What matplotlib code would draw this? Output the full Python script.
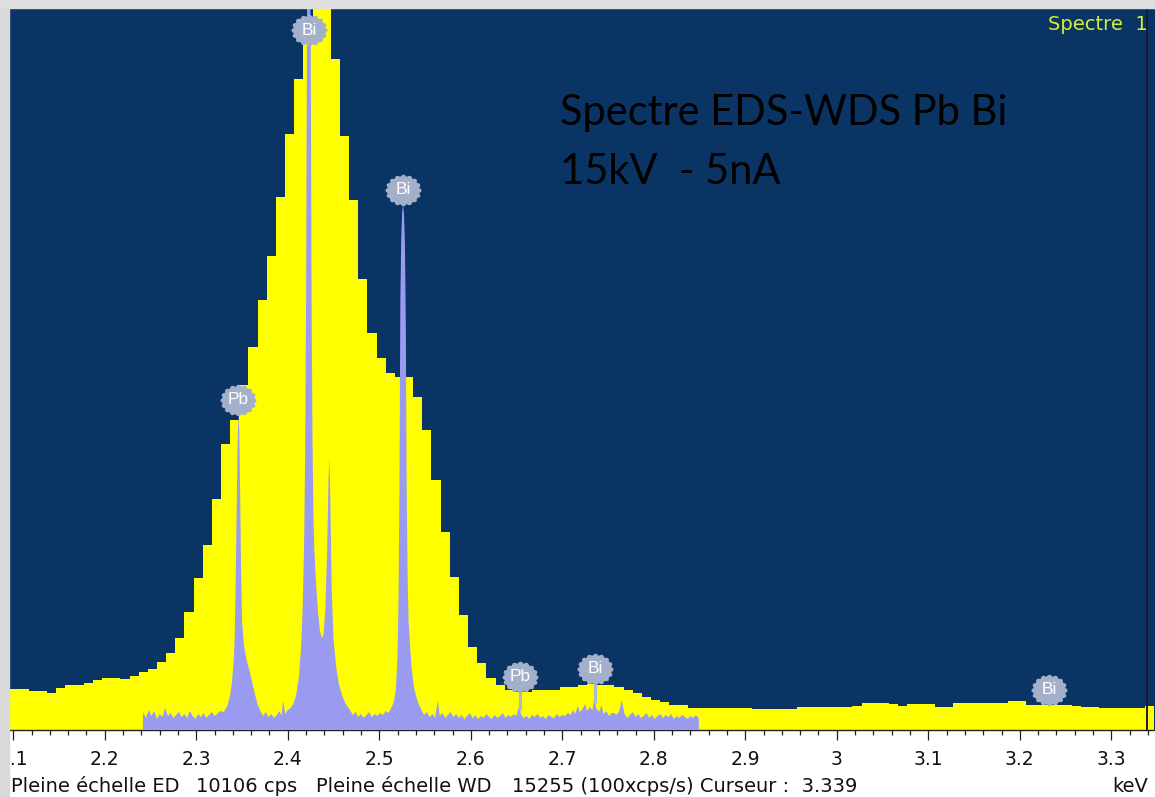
import numpy as np
import matplotlib
matplotlib.use("Agg")
import matplotlib.pyplot as plt
from matplotlib.path import Path
from matplotlib.patches import Rectangle
from matplotlib.ticker import MultipleLocator, FixedLocator, FixedFormatter

# ---------------- data ----------------
eds_full_scale = 10106          # cps (Pleine echelle ED)
wds_full_scale = 15255          # 100xcps/s (Pleine echelle WD)
cursor_kev = 3.339

# EDS spectrum: 10 eV channels, first channel lower edge
eds_first_edge_kev = 2.087
eds_channel_kev = 0.01
eds_cps = [
    574, 574, 574, 546, 546, 518, 588, 630, 630, 658,      # 2.09 - 2.18
    700, 728, 728, 714, 756, 812, 854, 952, 1078, 1288,    # 2.19 - 2.28
    1652, 2128, 2590, 3234, 4004, 4340, 4830, 5362, 6020, 6636,  # 2.29 - 2.38
    7462, 8344, 9114, 9618, 10700, 10400, 9394, 8316, 7420, 6314,  # 2.39 - 2.48
    5558, 5208, 4998, 4942, 4942, 4662, 4200, 3500, 2772, 2142,  # 2.49 - 2.58
    1610, 1162, 938, 728, 630, 560, 532, 532, 560, 560,    # 2.59 - 2.68
    560, 602, 602, 630, 644, 630, 630, 602, 560, 518,      # 2.69 - 2.78
    462, 420, 392, 350, 350, 308, 308, 308, 308, 308,      # 2.79 - 2.88
    308, 308, 294, 294, 294, 294, 294, 322, 322, 322,      # 2.89 - 2.98
    322, 322, 322, 336, 378, 378, 378, 364, 336, 364,      # 2.99 - 3.08
    364, 364, 322, 322, 378, 378, 378, 378, 378, 378,      # 3.09 - 3.18
    406, 406, 350, 350, 350, 350, 350, 336, 322, 322,      # 3.19 - 3.28
    308, 308, 308, 308, 308, 336,                          # 3.29 - 3.34
]

# WDS spectrum (energy in keV, intensity in 100xcps/s)
wds_kev = [
    2.2415, 2.2418, 2.245, 2.248, 2.251, 2.254, 2.257, 2.260, 2.263, 2.266,
    2.269, 2.272, 2.275, 2.278, 2.281, 2.284, 2.287, 2.290, 2.293, 2.296,
    2.299, 2.302, 2.305, 2.308, 2.311, 2.314, 2.317, 2.320, 2.323, 2.326,
    2.330, 2.334, 2.337, 2.339, 2.341, 2.342, 2.343, 2.344, 2.345, 2.346,
    2.347, 2.348, 2.349, 2.350, 2.352, 2.355, 2.358, 2.361, 2.364, 2.367,
    2.370, 2.373, 2.376, 2.379, 2.382, 2.385, 2.388, 2.391, 2.393, 2.395,
    2.397, 2.400, 2.403, 2.406, 2.409, 2.412, 2.414, 2.415, 2.416, 2.417,
    2.418, 2.419, 2.420, 2.421, 2.422, 2.423, 2.424, 2.425, 2.426, 2.427,
    2.428, 2.429, 2.431, 2.433, 2.435, 2.437, 2.439, 2.441, 2.443, 2.4445,
    2.4455, 2.4465, 2.448, 2.450, 2.453, 2.456, 2.460, 2.464, 2.468, 2.471,
    2.474, 2.477, 2.480, 2.483, 2.486, 2.489, 2.492, 2.495, 2.498, 2.501,
    2.504, 2.507, 2.510, 2.513, 2.516, 2.518, 2.520, 2.521, 2.522, 2.523,
    2.524, 2.525, 2.526, 2.527, 2.528, 2.529, 2.530, 2.531, 2.532, 2.535,
    2.538, 2.542, 2.546, 2.549, 2.552, 2.555, 2.558, 2.561, 2.564, 2.566,
    2.569, 2.572, 2.575, 2.578, 2.581, 2.584, 2.587, 2.590, 2.593, 2.596,
    2.599, 2.602, 2.605, 2.608, 2.611, 2.614, 2.617, 2.620, 2.623, 2.626,
    2.629, 2.632, 2.635, 2.638, 2.641, 2.644, 2.647, 2.650, 2.653, 2.655,
    2.658, 2.661, 2.664, 2.667, 2.670, 2.673, 2.676, 2.679, 2.682, 2.685,
    2.688, 2.691, 2.694, 2.697, 2.700, 2.703, 2.706, 2.709, 2.712, 2.714,
    2.717, 2.719, 2.722, 2.725, 2.727, 2.730, 2.733, 2.735, 2.737, 2.740,
    2.743, 2.745, 2.748, 2.751, 2.754, 2.757, 2.759, 2.762, 2.765, 2.768,
    2.771, 2.774, 2.777, 2.780, 2.783, 2.786, 2.789, 2.792, 2.795, 2.798,
    2.801, 2.804, 2.807, 2.810, 2.813, 2.816, 2.819, 2.822, 2.825, 2.828,
    2.831, 2.834, 2.837, 2.840, 2.843, 2.846, 2.849, 2.8495,
]
wds_cps = [
    0, 380, 254, 423, 296, 401, 232, 338, 275, 465,
    296, 359, 254, 317, 380, 275, 338, 254, 401, 296,
    232, 338, 275, 359, 254, 317, 380, 296, 338, 401,
    380, 507, 740, 1014, 1479, 2007, 3100, 4500, 5900, 6656,
    6300, 4900, 3300, 2324, 1796, 1479, 1268, 1014, 761, 549,
    401, 296, 380, 275, 338, 254, 317, 401, 296, 634,
    338, 423, 465, 549, 718, 1099, 1585, 1965, 2430, 3170,
    4163, 5916, 9086, 15214, 16904, 17327, 16481, 14791, 9086, 6128,
    4543, 3803, 3064, 2493, 2113, 1944, 2007, 2536, 3803, 5283,
    5768, 4860, 2958, 1902, 1310, 951, 697, 528, 423, 317,
    380, 275, 338, 254, 317, 380, 275, 338, 296, 359,
    317, 401, 359, 465, 592, 845, 1585, 2800, 5000, 9086,
    10400, 10950, 11093, 10900, 10300, 8500, 4900, 3200, 2300, 1373,
    887, 592, 423, 317, 380, 275, 338, 254, 634, 296,
    359, 254, 317, 380, 275, 338, 254, 317, 232, 296,
    359, 254, 317, 232, 296, 254, 338, 275, 232, 317,
    254, 296, 359, 254, 317, 275, 338, 296, 528, 317,
    254, 296, 232, 317, 275, 338, 254, 296, 232, 317,
    275, 254, 338, 275, 317, 296, 359, 317, 423, 338,
    507, 380, 444, 549, 401, 486, 423, 697, 465, 380,
    528, 338, 401, 296, 359, 359, 317, 380, 634, 338,
    254, 317, 380, 275, 338, 254, 296, 359, 254, 317,
    232, 296, 338, 254, 317, 275, 338, 232, 296, 254,
    317, 275, 232, 296, 254, 317, 254, 0,
]

# element markers
marker_kev = [2.346, 2.423, 2.526, 2.654, 2.736, 3.232]
marker_label = ["Pb", "Bi", "Bi", "Pb", "Bi", "Bi"]

tick_kev = [2.1, 2.2, 2.3, 2.4, 2.5, 2.6, 2.7, 2.8, 2.9, 3.0, 3.1, 3.2, 3.3]
tick_text = ["2.1", "2.2", "2.3", "2.4", "2.5", "2.6", "2.7", "2.8", "2.9",
             "3", "3.1", "3.2", "3.3"]

# ---------------- figure ----------------
W, H = 1155, 797
fig = plt.figure(figsize=(W / 100, H / 100), dpi=100)
fig.patch.set_facecolor("white")

left_px, right_px, top_px, bottom_px = 9, 1155, 8, 730
ax = fig.add_axes([left_px / W, 1 - bottom_px / H,
                   (right_px - left_px) / W, (bottom_px - top_px) / H])
ax.set_facecolor("#0a3464")
plot_h_px = bottom_px - top_px

# x calibration: 2.1 keV at 13.3 px, 915 px per keV
x_ref_px, px_per_kev = 13.3, 915.0
ax.set_xlim(2.1 + (left_px - x_ref_px) / px_per_kev,
            2.1 + (right_px - x_ref_px) / px_per_kev)
ax.set_ylim(0, 1)

eds = np.array(eds_cps, dtype=float) / eds_full_scale
edges = eds_first_edge_kev + eds_channel_kev * np.arange(len(eds) + 1)
ax.stairs(eds, edges, fill=True, color="#ffff00", linewidth=0, zorder=2)

wk = np.array(wds_kev)
wv = np.array(wds_cps, dtype=float) / wds_full_scale
ax.fill_between(wk, wv, 0, color="#9a9af0", linewidth=0, zorder=3)

ax.axvline(cursor_kev, color="#161c30", lw=1.4, zorder=4)

# ticks
ax.xaxis.set_major_locator(FixedLocator(tick_kev))
ax.xaxis.set_major_formatter(FixedFormatter(tick_text))
ax.xaxis.set_minor_locator(MultipleLocator(0.02))
ax.tick_params(axis="x", which="major", length=7.2, width=0.9, color="#222222",
               direction="out", pad=7, labelsize=13.5, labelcolor="#111111")
ax.tick_params(axis="x", which="minor", length=3.6, width=0.9, color="#222222",
               direction="out")
for lab in ax.get_xticklabels():
    lab.set_fontfamily("DejaVu Sans")
ax.set_yticks([])
for s in ("top", "left", "right"):
    ax.spines[s].set_visible(False)
ax.spines["bottom"].set_color("#222222")
ax.spines["bottom"].set_linewidth(1.0)

# element marker bubbles
theta = np.linspace(0, 2 * np.pi, 321)
rr = 1 + 0.06 * np.cos(16 * theta)
bubble = Path(np.column_stack([rr * np.cos(theta), 0.87 * rr * np.sin(theta)]))
px = 1.0 / plot_h_px
for e, lab in zip(marker_kev, marker_label):
    idx = int(np.clip(np.searchsorted(edges, e) - 1, 0, len(eds) - 1))
    e_val = eds[idx]
    if wk[0] <= e <= wk[-1]:
        w_val = float(np.interp(e, wk, wv))
        stem_end = w_val
    else:
        w_val = 0.0
        stem_end = e_val
    yc = min(max(e_val, w_val) + 15 * px, 1 - 22 * px)
    if stem_end < yc:
        ax.plot([e, e], [stem_end, yc], color="#aeb9cf", lw=2.2,
                solid_capstyle="butt", zorder=5)
    ax.plot([e], [yc], marker=bubble, markersize=25, color="#a4b0ca",
            markeredgecolor="#a4b0ca", linestyle="none", zorder=6, clip_on=False)
    ax.text(e, yc, lab, color="white", fontsize=12.5, ha="center", va="center",
            family="Liberation Sans", zorder=7)

# texts
ax.text(1.0 - (right_px - 1148) / (right_px - left_px),
        1 - (24 - top_px) / plot_h_px, "Spectre  1", color="#d4ec3c",
        fontsize=14, ha="right", va="center", family="DejaVu Sans",
        transform=ax.transAxes, zorder=8)

fig.text(560 / W, 1 - 125 / H, "Spectre EDS-WDS Pb Bi", fontsize=30,
         family="Lato", color="black", ha="left", va="baseline", zorder=8)
fig.text(560 / W, 1 - 184 / H, "15kV  - 5nA", fontsize=30,
         family="Lato", color="black", ha="left", va="baseline", zorder=8)

footer_y = 1 - 787 / H
footer_parts = [
    (11, "Pleine échelle ED"),
    (196, f"{eds_full_scale} cps"),
    (316, "Pleine échelle WD"),
    (512, f"{wds_full_scale} (100xcps/s) Curseur :  {cursor_kev:.3f}"),
]
for xp, s in footer_parts:
    fig.text(xp / W, footer_y, s, fontsize=14, family="DejaVu Sans",
             color="#111111", ha="left", va="center")
fig.text(1148 / W, footer_y, "keV", fontsize=14, family="DejaVu Sans",
         color="#111111", ha="right", va="center")

# outer grey frame
fig.add_artist(Rectangle((0, 0), left_px / W, 1, transform=fig.transFigure,
                         color="#d9d9d9", zorder=20))
fig.add_artist(Rectangle((0, 1 - top_px / H), 1, top_px / H,
                         transform=fig.transFigure, color="#dedede", zorder=20))

fig.savefig("out.png", dpi=100, facecolor=fig.get_facecolor())
